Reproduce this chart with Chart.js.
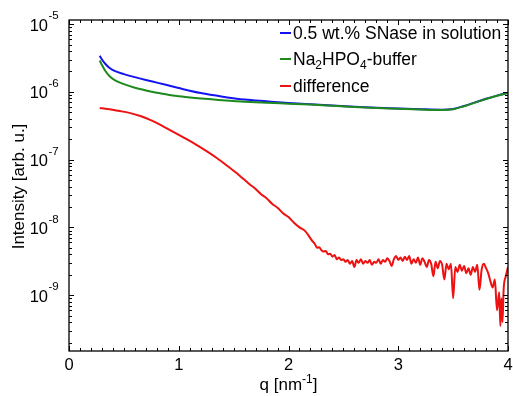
<!DOCTYPE html>
<html>
<head>
<meta charset="utf-8">
<script src="https://cdn.jsdelivr.net/npm/chart.js@4.4.1/dist/chart.umd.min.js"></script>
<style>
html,body{margin:0;padding:0;background:#fff;}
#c{display:block;}
</style>
</head>
<body>
<canvas id="c" width="513" height="396"></canvas>
<script>
// ---- Data ----
const q_solution = [0.28,0.30,0.33,0.37,0.42,0.50,0.60,0.70,0.80,0.90,1.00,1.10,1.20,1.40,1.60,1.80,2.00,2.20,2.40,2.60,2.80,3.00,3.20,3.40,3.50,3.60,3.70,3.80,3.90,4.00];
const I_solution = [3.4e-6,3.0e-6,2.6e-6,2.25e-6,2.02e-6,1.83e-6,1.65e-6,1.5e-6,1.37e-6,1.25e-6,1.14e-6,1.04e-6,9.6e-7,8.5e-7,7.7e-7,7.25e-7,6.85e-7,6.55e-7,6.3e-7,6.05e-7,5.85e-7,5.7e-7,5.55e-7,5.45e-7,5.6e-7,6.2e-7,7.0e-7,7.9e-7,8.8e-7,9.7e-7];

const q_buffer = [0.28,0.30,0.33,0.37,0.42,0.50,0.60,0.70,0.80,0.90,1.00,1.20,1.40,1.60,1.80,2.00,2.20,2.40,2.60,2.80,3.00,3.20,3.40,3.50,3.60,3.70,3.80,3.90,4.00];
const I_buffer = [2.9e-6,2.5e-6,2.05e-6,1.7e-6,1.48e-6,1.3e-6,1.15e-6,1.05e-6,9.7e-7,9.1e-7,8.6e-7,8.0e-7,7.5e-7,7.15e-7,6.9e-7,6.7e-7,6.5e-7,6.25e-7,6.0e-7,5.8e-7,5.65e-7,5.5e-7,5.4e-7,5.55e-7,6.15e-7,6.95e-7,7.85e-7,8.75e-7,9.6e-7];

const q_diff = [0.28,0.35,0.45,0.55,0.65,0.75,0.85,0.95,1.05,1.15,1.25,1.35,1.45,1.55,1.65,1.70,1.75,1.80,1.85,1.90,1.95,2.00,2.05,2.10,2.15,
2.20,2.22,2.24,2.26,2.28,2.30,2.32,2.34,2.36,2.38,2.40,2.42,2.44,2.46,2.48,2.50,2.52,2.54,2.56,2.58,2.60,2.62,2.64,2.66,2.68,2.70,2.72,2.74,2.76,2.78,
2.80,2.82,2.84,2.86,2.88,2.90,2.92,2.94,2.96,2.98,3.00,3.02,3.04,3.06,3.08,3.10,3.12,3.14,3.16,3.18,3.20,3.22,3.24,3.26,3.28,3.30,3.32,3.34,3.36,3.38,
3.40,3.42,3.44,3.46,3.48,3.50,3.52,3.54,3.56,3.58,3.60,3.62,3.64,3.66,3.68,3.70,3.72,3.74,3.76,3.78,3.80,3.82,3.84,3.86,3.88,3.90,3.92,3.93,3.94,3.95,3.96,3.98,4.00];
const I_diff = [5.8e-7,5.6e-7,5.25e-7,4.9e-7,4.4e-7,3.8e-7,3.16e-7,2.57e-7,2.09e-7,1.7e-7,1.35e-7,1.05e-7,7.9e-8,5.9e-8,4.27e-8,3.7e-8,3.09e-8,2.7e-8,2.24e-8,1.95e-8,1.62e-8,1.42e-8,1.17e-8,1.0e-8,8.9e-9,
6.9e-9,6.2e-9,5.7e-9,5.0e-9,5.1e-9,4.6e-9,4.4e-9,4.5e-9,4.0e-9,4.1e-9,3.7e-9,3.9e-9,3.4e-9,3.6e-9,3.3e-9,3.4e-9,3.1e-9,3.3e-9,2.9e-9,3.2e-9,2.6e-9,3.3e-9,3.0e-9,3.4e-9,2.9e-9,3.2e-9,3.0e-9,3.3e-9,2.8e-9,3.1e-9,
3.0e-9,3.4e-9,2.9e-9,3.3e-9,3.1e-9,3.5e-9,3.2e-9,2.7e-9,3.4e-9,3.8e-9,3.3e-9,3.6e-9,3.2e-9,3.7e-9,3.3e-9,3.8e-9,2.9e-9,3.4e-9,3.0e-9,3.6e-9,2.8e-9,3.5e-9,3.1e-9,2.6e-9,3.3e-9,2.9e-9,1.9e-9,3.1e-9,2.5e-9,3.2e-9,
2.8e-9,1.7e-9,2.9e-9,2.4e-9,2.9e-9,0.9e-9,2.6e-9,2.2e-9,2.8e-9,2.3e-9,2.7e-9,2.1e-9,2.5e-9,2.0e-9,2.6e-9,2.2e-9,2.8e-9,1.2e-9,2.4e-9,2.9e-9,2.5e-9,2.1e-9,1.6e-9,1.3e-9,1.7e-9,0.6e-9,1.1e-9,0.35e-9,0.9e-9,0.4e-9,1.2e-9,1.9e-9,2.6e-9];

const xTickValues = [0,1,2,3,4];
const yTickExponents = [-9,-8,-7,-6,-5];
const seriesNames = ["0.5 wt.% SNase in solution","Na2HPO4-buffer","difference"];

// ---- Chart ----
const toPts = (qs, vs) => qs.map((q,i) => ({x:q, y:vs[i]}));
const FONT = '"Liberation Sans", Arial, Helvetica, sans-serif';

const framePlugin = {
  id: 'frame',
  afterDraw(chart) {
    const ctx = chart.ctx, a = chart.chartArea;
    const xs = chart.scales.x, ys = chart.scales.y;
    ctx.save();
    ctx.strokeStyle = '#000'; ctx.lineWidth = 1.3;
    ctx.strokeRect(a.left, a.top, a.right - a.left, a.bottom - a.top);
    ctx.lineWidth = 1;
    ctx.beginPath();
    for (let k = 0; k <= 40; k++) {
      const v = k / 10, px = Math.round(xs.getPixelForValue(v)) + 0.5;
      const len = (k % 10 === 0) ? 5 : 3;
      ctx.moveTo(px, a.bottom); ctx.lineTo(px, a.bottom - len);
      ctx.moveTo(px, a.top); ctx.lineTo(px, a.top + len);
    }
    for (let e = -10; e <= -5; e++) {
      for (let m = 1; m <= 9; m++) {
        const v = m * Math.pow(10, e);
        if (v < ys.min || v > ys.max) continue;
        const py = Math.round(ys.getPixelForValue(v)) + 0.5;
        const len = (m === 1) ? 5 : 3;
        ctx.moveTo(a.left, py); ctx.lineTo(a.left + len, py);
        ctx.moveTo(a.right, py); ctx.lineTo(a.right - len, py);
      }
    }
    ctx.stroke();

    ctx.fillStyle = '#000';
    ctx.font = '16.5px ' + FONT;
    ctx.textAlign = 'center'; ctx.textBaseline = 'middle';
    xTickValues.forEach(v => ctx.fillText(String(v), xs.getPixelForValue(v), a.bottom + 14));
    yTickExponents.forEach(e => {
      const py = ys.getPixelForValue(Math.pow(10, e));
      ctx.font = '16.5px ' + FONT; ctx.textAlign = 'right'; ctx.textBaseline = 'middle';
      ctx.fillText('10', 48, py + 2);
      ctx.font = '11.5px ' + FONT; ctx.textAlign = 'left';
      ctx.fillText('-' + Math.abs(e), 48.5, py - 8);
    });
    // x title
    ctx.font = '17px ' + FONT; ctx.textBaseline = 'alphabetic'; ctx.textAlign = 'left';
    const t1 = 'q [nm', t2 = '-1', t3 = ']';
    const w1 = ctx.measureText(t1).width, w3 = ctx.measureText(t3).width;
    ctx.font = '12px ' + FONT; const w2 = ctx.measureText(t2).width;
    let sx = (a.left + a.right) / 2 - (w1 + w2 + w3) / 2;
    const by = 390;
    ctx.font = '17px ' + FONT; ctx.fillText(t1, sx, by); sx += w1;
    ctx.font = '12px ' + FONT; ctx.fillText(t2, sx, by - 7); sx += w2;
    ctx.font = '17px ' + FONT; ctx.fillText(t3, sx, by);
    // y title
    ctx.save();
    ctx.translate(19, (a.top + a.bottom) / 2 + 1);
    ctx.rotate(-Math.PI / 2);
    ctx.textAlign = 'center'; ctx.textBaseline = 'middle';
    ctx.font = '17px ' + FONT;
    ctx.fillText('Intensity [arb. u.]', 0, 0);
    ctx.restore();

    // legend
    const colors = chart.data.datasets.map(d => d.borderColor);
    const rows = [33, 59, 86];
    const lx0 = 280, lx1 = 291, tx = 293;
    rows.forEach((ry, i) => {
      ctx.strokeStyle = colors[i]; ctx.lineWidth = 2;
      ctx.beginPath(); ctx.moveTo(lx0, ry); ctx.lineTo(lx1, ry); ctx.stroke();
    });
    ctx.fillStyle = '#000'; ctx.textBaseline = 'middle'; ctx.textAlign = 'left';
    ctx.font = '17.5px ' + FONT;
    ctx.fillText(seriesNames[0], tx, rows[0] + 1);
    ctx.fillText(seriesNames[2], tx, rows[2] + 1);
    const parts = [['Na',0],['2',1],['HPO',0],['4',1],['-buffer',0]];
    let px = tx;
    parts.forEach(([t, sub]) => {
      ctx.font = (sub ? '12px ' : '17.5px ') + FONT;
      ctx.fillText(t, px, rows[1] + 1 + (sub ? 6 : 0));
      px += ctx.measureText(t).width;
    });
    ctx.restore();
  }
};

new Chart(document.getElementById('c'), {
  type: 'line',
  data: {
    datasets: [
      {label: seriesNames[0], data: toPts(q_solution, I_solution), borderColor: '#1414f0', borderWidth: 2, pointRadius: 0, cubicInterpolationMode: 'monotone', order: 2},
      {label: seriesNames[1], data: toPts(q_buffer, I_buffer), borderColor: '#1e8a1e', borderWidth: 2, pointRadius: 0, cubicInterpolationMode: 'monotone', order: 1},
      {label: seriesNames[2], data: toPts(q_diff, I_diff), borderColor: '#ee1111', borderWidth: 2, pointRadius: 0, cubicInterpolationMode: 'monotone', order: 0}
    ]
  },
  options: {
    responsive: false,
    animation: false,
    devicePixelRatio: 1,
    layout: {padding: {left: 69, right: 5, top: 20, bottom: 45}},
    plugins: {legend: {display: false}, tooltip: {enabled: false}},
    scales: {
      x: {type: 'linear', min: 0, max: 4, ticks: {display: false}, grid: {display: false, drawTicks: false}, border: {display: false},
          afterFit: s => { s.height = 0; }},
      y: {type: 'logarithmic', min: 1.5e-10, max: 1.15e-5, ticks: {display: false}, grid: {display: false, drawTicks: false}, border: {display: false},
          afterFit: s => { s.width = 0; }}
    }
  },
  plugins: [framePlugin]
});
</script>
</body>
</html>
